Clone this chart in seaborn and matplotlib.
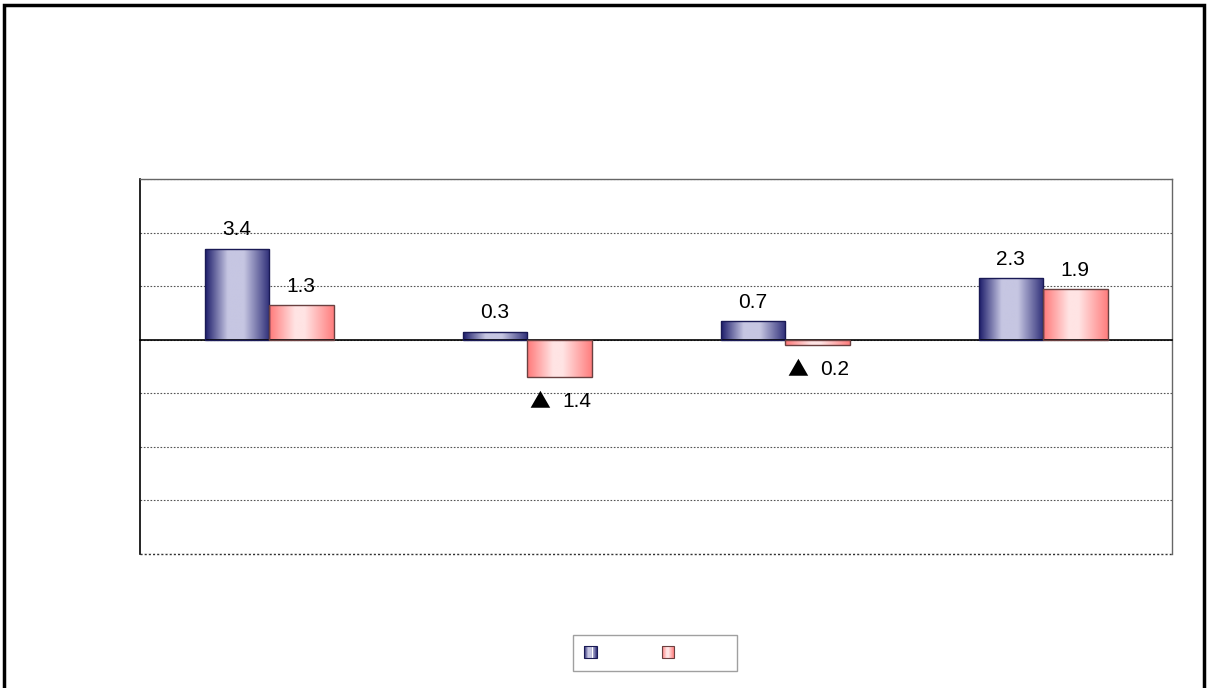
import numpy as np
import pandas as pd
import matplotlib
matplotlib.use("Agg")
import matplotlib.pyplot as plt
import seaborn as sns
from matplotlib.colors import LinearSegmentedColormap
from matplotlib.patches import Rectangle
from matplotlib.legend_handler import HandlerBase

# data
categories = ["1", "2", "3", "4"]
series_names = ["a", "b"]
values_a = [3.4, 0.3, 0.7, 2.3]
values_b = [1.3, -1.4, -0.2, 1.9]
legend_labels = ["", ""]

df = pd.DataFrame({
    "category": categories * 2,
    "series": [series_names[0]] * 4 + [series_names[1]] * 4,
    "value": values_a + values_b,
})

sns.set_style("white")
plt.rcParams["font.family"] = ["Liberation Sans", "Noto Sans CJK JP", "DejaVu Sans"]

cmaps = [
    LinearSegmentedColormap.from_list("blu", [(0, "#1c1c6a"), (0.35, "#c6c6e2"), (0.6, "#c6c6e2"), (1, "#2e2e78")]),
    LinearSegmentedColormap.from_list("pnk", [(0, "#ff7878"), (0.4, "#ffe4e4"), (0.55, "#ffe4e4"), (1, "#ff7e7e")]),
]
edges = ["#1a1a55", "#6a4040"]

fig = plt.figure(figsize=(12.09, 6.88), dpi=100)
ax = fig.add_axes([140 / 1209, 1 - 554 / 688, (1172 - 140) / 1209, (554 - 179) / 688])

sns.barplot(data=df, x="category", y="value", hue="series", order=categories,
            hue_order=series_names, width=0.5, ax=ax, legend=False,
            palette=["#8080b0", "#ffb0b0"], saturation=1)

ax.set_ylim(-8, 6)
ax.set_xlim(-0.5, 3.5)
ax.set_yticks(np.arange(-8, 7, 2))
ax.set_yticklabels([])
ax.set_xticklabels([])
ax.set_xlabel("")
ax.set_ylabel("")
ax.yaxis.grid(True, linestyle=(0, (1.5, 1.5)), color="#555555", linewidth=0.8)
ax.set_axisbelow(True)
ax.tick_params(axis="y", length=0)
ax.tick_params(axis="x", direction="out", length=5, color="#777777", width=0.8)
ax.axhline(-8, color="#333333", linestyle=(0, (1.5, 1.5)), linewidth=1.0, clip_on=False, zorder=1)

ax.spines["bottom"].set_position(("data", 0))
ax.spines["bottom"].set_color("black")
ax.spines["bottom"].set_linewidth(1.2)
ax.spines["left"].set_color("black")
ax.spines["left"].set_linewidth(1.2)
for s in ["top", "right"]:
    ax.spines[s].set_color("#666666")
    ax.spines[s].set_linewidth(1.0)

fs = 15
grad = np.linspace(0, 1, 256).reshape(1, -1)
for k, cont in enumerate(ax.containers):
    for bar in cont:
        x0, y0 = bar.get_x(), bar.get_y()
        w, h = bar.get_width(), bar.get_height()
        im = ax.imshow(grad, extent=[x0, x0 + w, min(y0, y0 + h), max(y0, y0 + h)],
                       cmap=cmaps[k], aspect="auto", zorder=2, interpolation="bilinear")
        im.set_clip_path(bar)
        bar.set_facecolor("none")
        bar.set_edgecolor(edges[k])
        bar.set_linewidth(1.0)
        bar.set_zorder(3)
        v = bar.get_height()
        cx = x0 + w / 2
        if v >= 0:
            ax.annotate(f"{v:.1f}", (cx, v), xytext=(0, 9.5), textcoords="offset points",
                        ha="center", va="baseline", fontsize=fs, color="black")
        else:
            ax.annotate("▲", (cx, v), xytext=(-6.5, -21.5), textcoords="offset points",
                        ha="right", va="baseline", fontsize=fs, color="black",
                        family=["Noto Sans CJK JP", "DejaVu Sans"])
            ax.annotate(f"{abs(v):.1f}", (cx, v), xytext=(2, -21.5), textcoords="offset points",
                        ha="left", va="baseline", fontsize=fs, color="black")
ax.set_xlim(-0.5, 3.5)
ax.set_ylim(-8, 6)


class GradHandler(HandlerBase):
    def __init__(self, cmap, edge):
        super().__init__()
        self.cmap = cmap
        self.edge = edge

    def create_artists(self, legend, orig_handle, xdescent, ydescent, width, height, fontsize, trans):
        arts = []
        n = 12
        for i in range(n):
            arts.append(Rectangle((-xdescent + i * width / n, -ydescent), width / n, height,
                                  facecolor=self.cmap((i + 0.5) / n), edgecolor="none", transform=trans))
        arts.append(Rectangle((-xdescent, -ydescent), width, height, facecolor="none",
                              edgecolor=self.edge, linewidth=0.8, transform=trans))
        return arts


h1 = Rectangle((0, 0), 1, 1)
h2 = Rectangle((0, 0), 1, 1)
leg = fig.legend([h1, h2], legend_labels, loc="center", bbox_to_anchor=(655 / 1209, 1 - 653 / 688),
                 ncol=2, fontsize=10, handlelength=0.9, handleheight=0.95,
                 handletextpad=3.7, columnspacing=1.0, borderpad=0.8, frameon=True, fancybox=False,
                 handler_map={h1: GradHandler(cmaps[0], edges[0]), h2: GradHandler(cmaps[1], edges[1])})
leg.get_frame().set_edgecolor("#888888")
leg.get_frame().set_linewidth(1.0)

fig.patches.append(Rectangle((4 / 1209, -0.05), 1200 / 1209, 1 - 4.5 / 688 + 0.05,
                             transform=fig.transFigure, fill=False, edgecolor="black", linewidth=2.5))

fig.savefig("out.png", dpi=100)
